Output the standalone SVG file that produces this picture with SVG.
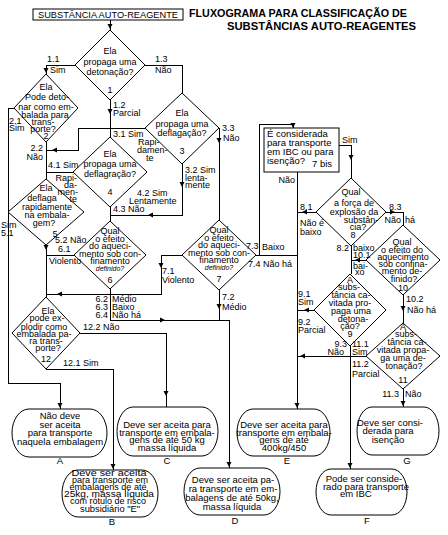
<svg xmlns="http://www.w3.org/2000/svg" width="448" height="535" viewBox="0 0 448 535">
<style>
.s{fill:#fff;stroke:#000;stroke-width:1}
.c path{fill:none;stroke:#000;stroke-width:1;shape-rendering:crispEdges}
text{font-family:"Liberation Sans",Arial,sans-serif;font-size:9px;fill:#000}
.m{text-anchor:middle}
.e{text-anchor:end}
.b{font-size:9.5px}
.i{font-style:italic;font-size:7px}
.t{font-weight:bold;font-size:11px}
</style>
<defs>
<path id="ah" d="M0,0 L-2.5,-5 L2.5,-5 Z" fill="#000" stroke="none"/>
</defs>
<rect width="448" height="535" fill="#fff"/>
<g id="title">
<text class="t" x="189" y="17" textLength="218" lengthAdjust="spacingAndGlyphs">FLUXOGRAMA PARA CLASSIFICAÇÃO DE</text>
<text class="t" x="227" y="30" textLength="189" lengthAdjust="spacingAndGlyphs">SUBSTÂNCIAS AUTO-REAGENTES</text>
</g>
<g id="connectors" class="c">
<path d="M110,20V30"/>
<path d="M75,65H46V74"/>
<path d="M110,100V137"/>
<path d="M145,65H182V93"/>
<path d="M14,108H8V383H60V409"/>
<path d="M46,142V179"/>
<path d="M145,128H78V150H46"/>
<path d="M182,164V215H110"/>
<path d="M219,128V220"/>
<path d="M73,172H46"/>
<path d="M110,207V221"/>
<path d="M46,245V297"/>
<path d="M74,255H46"/>
<path d="M110,289V320H229V468"/>
<path d="M182,255H161V294H46"/>
<path d="M219,290V320"/>
<path d="M256,255H297"/>
<path d="M259,255V124H293V128"/>
<path d="M297,172V409"/>
<path d="M339,145H351V178"/>
<path d="M316,212H297"/>
<path d="M386,212H403V225"/>
<path d="M351,246V274"/>
<path d="M366,260H351"/>
<path d="M403,295V323"/>
<path d="M314,310H297"/>
<path d="M366,356H297"/>
<path d="M350,346V469"/>
<path d="M403,389V407"/>
<path d="M80,333H166V407"/>
<path d="M46,369H113V470"/>
</g>
<g id="arrows">
<use href="#ah" transform="translate(110,29)"/>
<use href="#ah" transform="translate(46,73)"/>
<use href="#ah" transform="translate(110,114)"/>
<use href="#ah" transform="translate(219,143)"/>
<use href="#ah" transform="translate(182,187)"/>
<use href="#ah" transform="translate(46,250)"/>
<use href="#ah" transform="translate(161,268)"/>
<use href="#ah" transform="translate(219,309)"/>
<use href="#ah" transform="translate(166,396)"/>
<use href="#ah" transform="translate(113,469)"/>
<use href="#ah" transform="translate(60,408)"/>
<use href="#ah" transform="translate(229,467)"/>
<use href="#ah" transform="translate(293,128)"/>
<use href="#ah" transform="translate(351,160)"/>
<use href="#ah" transform="translate(403,311)"/>
<use href="#ah" transform="translate(350,468)"/>
<use href="#ah" transform="translate(403,406)"/>
<use href="#ah" transform="translate(297,408)"/>
<use href="#ah" transform="translate(52,150) rotate(90)"/>
<use href="#ah" transform="translate(148,215) rotate(90)"/>
<use href="#ah" transform="translate(57,294) rotate(90)"/>
<use href="#ah" transform="translate(302,212) rotate(90)"/>
<use href="#ah" transform="translate(355,260) rotate(90)"/>
<use href="#ah" transform="translate(304,310) rotate(90)"/>
<use href="#ah" transform="translate(300,356) rotate(90)"/>
<use href="#ah" transform="translate(165,320) rotate(-90)"/>
<use href="#ah" transform="translate(395,212) rotate(-90)"/>
</g>
<g id="n-top">
<rect class="s" x="33" y="9" width="150" height="11"/>
<text class="m b" x="108" y="18" textLength="140" lengthAdjust="spacingAndGlyphs">SUBSTÂNCIA AUTO-REAGENTE</text>
</g>
<g id="n1">
<polygon class="s" points="110,30 145,65 110,100 75,65"/>
<text class="m" x="110" y="54">Ela</text>
<text class="m" x="110" y="65">propaga uma</text>
<text class="m" x="110" y="75">detonação?</text>
<text class="m" x="110" y="93">1</text>
</g>
<g id="n2">
<polygon class="s" points="46,74 78,108 46,142 14,108"/>
<text class="m" x="46" y="90">Ela</text>
<text class="m" x="47" y="100">Pode deto-</text>
<text class="m" x="46" y="110">nar como em-</text>
<text class="m" x="45" y="118">balada para</text>
<text class="m" x="43" y="125">trans-</text>
<text class="m" x="43" y="132">porte?</text>
<text class="m" x="46" y="139">2</text>
</g>
<g id="n3">
<polygon class="s" points="182,93 219,128 182,164 145,128"/>
<text class="m" x="182" y="116">Ela</text>
<text class="m" x="182" y="127">propaga uma</text>
<text class="m" x="182" y="136">deflagação?</text>
<text class="m" x="182" y="154">3</text>
</g>
<g id="n4">
<polygon class="s" points="110,137 147,172 110,207 73,172"/>
<text class="m" x="110" y="157">Ela</text>
<text class="m" x="110" y="167">propaga uma</text>
<text class="m" x="110" y="177">deflagração?</text>
<text class="m" x="110" y="195">4</text>
</g>
<g id="n5">
<polygon class="s" points="46,179 84,212 46,245 8,212"/>
<text class="m" x="46" y="191">Ela</text>
<text class="m" x="42" y="201">deflaga</text>
<text class="m" x="47" y="210">rapidamente</text>
<text class="m" x="47" y="218">na embala-</text>
<text class="m" x="44" y="226">gem?</text>
<text class="m" x="55" y="237">5</text>
</g>
<g id="n6">
<polygon class="s" points="110,221 146,255 110,289 74,255"/>
<text class="m" x="110" y="234">Qual</text>
<text class="m" x="110" y="242">o efeito</text>
<text class="m" x="110" y="249">do aqueci-</text>
<text class="m" x="110" y="257">mento sob con-</text>
<text class="m" x="110" y="264">finamento</text>
<text class="m i" x="110" y="271">definido?</text>
<text class="m" x="110" y="283">6</text>
</g>
<g id="n7">
<polygon class="s" points="219,220 256,255 219,290 182,255"/>
<text class="m" x="219" y="233">Qual</text>
<text class="m" x="219" y="241">o efeito</text>
<text class="m" x="219" y="248">do aqueci-</text>
<text class="m" x="219" y="256">mento sob con-</text>
<text class="m" x="219" y="263">finamento</text>
<text class="m i" x="219" y="270">definido?</text>
<text class="m" x="219" y="282">7</text>
</g>
<g id="n7bis">
<rect class="s" x="264" y="128" width="75" height="44"/>
<text class="b" x="267" y="137">É considerada</text>
<text class="b" x="267" y="146">para transporte</text>
<text class="b" x="267" y="155">em IBC ou para</text>
<text class="b" x="267" y="164">isenção?</text>
<text class="b" x="312" y="167">7 bis</text>
</g>
<g id="n8">
<polygon class="s" points="351,178 386,212 351,246 316,212"/>
<text class="m" x="351" y="195">Qual</text>
<text class="m" x="354" y="206">a força de</text>
<text class="m" x="354" y="215">explosão da</text>
<text class="m" x="361" y="223">substân-</text>
<text class="m" x="358" y="230">cia?</text>
<text class="m" x="353" y="238">8</text>
</g>
<g id="n9">
<polygon class="s" points="350,274 386,310 350,346 314,310"/>
<text class="m" x="350" y="283">A</text>
<text class="m" x="349" y="290">subs-</text>
<text class="m" x="351" y="298">tância ca-</text>
<text class="m" x="350" y="306">vitada pro-</text>
<text class="m" x="351" y="314">paga uma</text>
<text class="m" x="353" y="322">detona-</text>
<text class="m" x="350" y="329">ção?</text>
<text class="m" x="350" y="337">9</text>
</g>
<g id="n10">
<polygon class="s" points="403,225 440,260 403,295 366,260"/>
<text class="m" x="402" y="245">Qual</text>
<text class="m" x="402" y="253">o efeito do</text>
<text class="m" x="403" y="260">aquecimento</text>
<text class="m" x="403" y="267">sob confina-</text>
<text class="m" x="402" y="274">mento de-</text>
<text class="m" x="404" y="282">finido?</text>
<text class="m" x="403" y="291">10</text>
</g>
<g id="n11">
<polygon class="s" points="403,323 440,356 403,389 366,356"/>
<text class="m" x="403" y="330">A</text>
<text class="m" x="406" y="337">subs-</text>
<text class="m" x="407" y="345">tância ca-</text>
<text class="m" x="403" y="353">vitada propa-</text>
<text class="m" x="403" y="361">ga uma de-</text>
<text class="m" x="404" y="369">tonação?</text>
<text class="m" x="403" y="383">11</text>
</g>
<g id="n12">
<polygon class="s" points="46,297 80,333 46,369 12,333"/>
<text class="m" x="48" y="314">Ela</text>
<text class="m" x="47" y="321">pode ex-</text>
<text class="m" x="44" y="330">plodir como</text>
<text class="m" x="44" y="337">embalada pa-</text>
<text class="m" x="46" y="344">ra trans-</text>
<text class="m" x="48" y="351">porte?</text>
<text class="m" x="46" y="362">12</text>
</g>
<g id="nA">
<path class="s" d="M29,409H90A17,24 0 0 1 90,457H29A17,24 0 0 1 29,409Z"/>
<text class="m b" x="60" y="419">Não deve</text>
<text class="m b" x="60" y="428">ser aceita</text>
<text class="m b" x="60" y="436">para transporte</text>
<text class="m b" x="60" y="445">naquela embalagem</text>
<text class="m b" x="60" y="464">A</text>
</g>
<g id="nB">
<path class="s" d="M78,470H142A16,23.5 0 0 1 142,517H78A16,23.5 0 0 1 78,470Z"/>
<text class="m b" x="109" y="476" textLength="75" lengthAdjust="spacingAndGlyphs">Deve ser aceita</text>
<text class="m b" x="110" y="482.5" textLength="76" lengthAdjust="spacingAndGlyphs">para transporte em</text>
<text class="m b" x="108" y="489.5" textLength="77" lengthAdjust="spacingAndGlyphs">embalagens de até</text>
<text class="m b" x="109" y="497" textLength="90" lengthAdjust="spacingAndGlyphs">25kg, massa líquida</text>
<text class="m b" x="108" y="504" textLength="76" lengthAdjust="spacingAndGlyphs">com rótulo de risco</text>
<text class="m b" x="110" y="511.5" textLength="60" lengthAdjust="spacingAndGlyphs">subsidiário "E"</text>
<text class="m b" x="112" y="525">B</text>
</g>
<g id="nC">
<path class="s" d="M133,407H202A16,24.5 0 0 1 202,456H133A16,24.5 0 0 1 133,407Z"/>
<text class="m b" x="167" y="428">Deve ser aceita para</text>
<text class="m b" x="167" y="436">transporte em embala-</text>
<text class="m b" x="167" y="443">gens de até 50 kg</text>
<text class="m b" x="167" y="451">massa líquida</text>
<text class="m b" x="167" y="464">C</text>
</g>
<g id="nD">
<path class="s" d="M200,468H264A16,23.5 0 0 1 264,515H200A16,23.5 0 0 1 200,468Z"/>
<text class="m b" x="233" y="483">Deve ser aceita pa-</text>
<text class="m b" x="233" y="492">ra transporte em em-</text>
<text class="m b" x="232" y="501">balagens de até 50kg,</text>
<text class="m b" x="232" y="510">massa líquida</text>
<text class="m b" x="235" y="524">D</text>
</g>
<g id="nE">
<path class="s" d="M253,409H314A16,23.5 0 0 1 314,456H253A16,23.5 0 0 1 253,409Z"/>
<text class="m b" x="284" y="428">Deve ser aceita para</text>
<text class="m b" x="284" y="436">transporte em embala-</text>
<text class="m b" x="284" y="443">gens de até</text>
<text class="m b" x="284" y="451">400kg/450</text>
<text class="m b" x="287" y="464">E</text>
</g>
<g id="nF">
<path class="s" d="M331,469H392A15,23 0 0 1 392,515H331A15,23 0 0 1 331,469Z"/>
<text class="m b" x="364" y="482">Pode ser conside-</text>
<text class="m b" x="366" y="490">rado para transporte</text>
<text class="b" x="340" y="497">em IBC</text>
<text class="m b" x="367" y="524">F</text>
</g>
<g id="nG">
<path class="s" d="M372,407H424A15,24 0 0 1 424,455H372A15,24 0 0 1 372,407Z"/>
<text class="m b" x="390" y="426">Deve ser consi-</text>
<text class="m b" x="388" y="434">derada para</text>
<text class="m b" x="388" y="443">isenção</text>
<text class="m b" x="407" y="464">G</text>
</g>
<g id="labels">
<text x="47" y="62">1.1</text>
<text x="50" y="73">Sim</text>
<text x="113" y="108">1.2</text>
<text x="113" y="116">Parcial</text>
<text x="155" y="62">1.3</text>
<text x="155" y="73">Não</text>
<text x="9" y="124">2.1</text>
<text x="9" y="131">Sim</text>
<text class="e" x="43" y="151">2.2</text>
<text class="e" x="43" y="160">Não</text>
<text x="113" y="137">3.1 Sim</text>
<text x="138" y="145">Rapi-</text>
<text x="137" y="153">damen-</text>
<text x="146" y="161">te</text>
<text x="185" y="173">3.2 Sim</text>
<text x="185" y="181">lenta-</text>
<text x="185" y="188">mente</text>
<text x="222" y="131">3.3</text>
<text x="223" y="141">Não</text>
<text x="48" y="168">4.1 Sim</text>
<text class="e" x="77" y="181">Rapi-</text>
<text class="e" x="77" y="188">da-</text>
<text class="e" x="78" y="195">men-</text>
<text class="e" x="77" y="202">te</text>
<text x="137" y="196">4.2 Sim</text>
<text x="129" y="204">Lentamente</text>
<text x="113" y="212">4.3 Não</text>
<text x="1" y="228">Sim</text>
<text x="1" y="236">5.1</text>
<text x="55" y="243">5.2 Não</text>
<text x="58" y="252">6.1</text>
<text x="49" y="264">Violento</text>
<text class="e" x="108" y="302">6.2</text>
<text class="e" x="108" y="310">6.3</text>
<text class="e" x="108" y="318">6.4</text>
<text x="112" y="302">Médio</text>
<text x="112" y="310">Baixo</text>
<text x="112" y="318">Não há</text>
<text x="162" y="274">7.1</text>
<text x="162" y="283">Violento</text>
<text x="222" y="300">7.2</text>
<text x="222" y="310">Médio</text>
<text x="246" y="249">7.3</text>
<text x="262" y="250">Baixo</text>
<text x="248" y="267">7.4 Não há</text>
<text class="e" x="295" y="183">Não</text>
<text x="342" y="143">Sim</text>
<text x="300" y="210">8.1</text>
<text x="300" y="226">Não é</text>
<text x="300" y="235">baixo</text>
<text class="e" x="349" y="251">8.2</text>
<text x="353" y="251">baixo</text>
<text x="389" y="210">8.3</text>
<text class="e" x="401" y="223">Não</text>
<text x="405" y="223">há</text>
<text x="353" y="258">10.1</text>
<text x="353" y="269">bai-</text>
<text x="355" y="275">xo</text>
<text x="406" y="302">10.2</text>
<text x="407" y="313">Não há</text>
<text x="298" y="297">9.1</text>
<text x="298" y="305">Sim</text>
<text x="298" y="325">9.2</text>
<text x="298" y="333">Parcial</text>
<text class="e" x="347" y="347">9.3</text>
<text class="e" x="344" y="355">Não</text>
<text x="352" y="347">11.1</text>
<text x="352" y="355">Sim</text>
<text x="352" y="367">11.2</text>
<text x="352" y="377">Parcial</text>
<text class="e" x="399" y="397">11.3</text>
<text x="405" y="397">Não</text>
<text x="83" y="330">12.2 Não</text>
<text x="63" y="366">12.1 Sim</text>
</g>
</svg>
